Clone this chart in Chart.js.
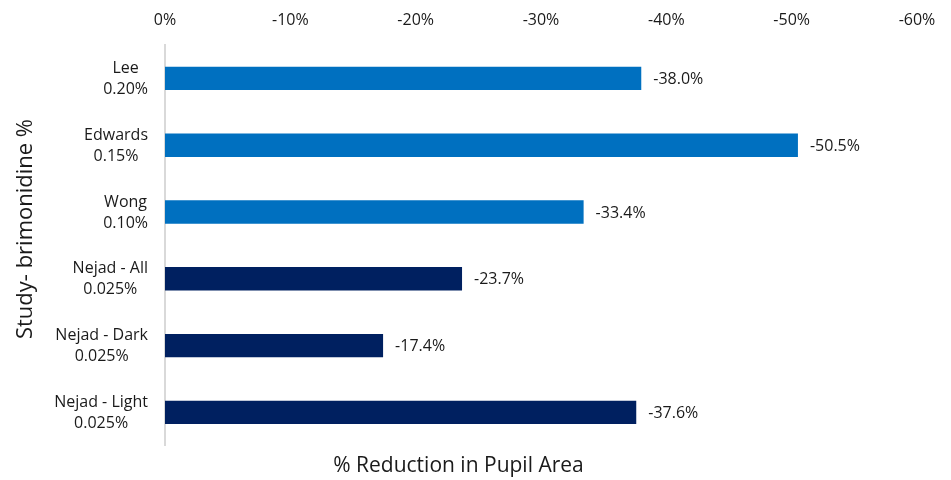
<!DOCTYPE html>
<html lang="en">
<head>
    <meta charset="UTF-8">
    <title>Pupil Area Reduction</title>
    <script src="https://cdn.jsdelivr.net/npm/chart.js"></script>
    <style>
        body {
            margin: 0;
            background: #ffffff;
        }

        .chart-container {
            width: 951px;
            height: 480px;
        }
    </style>
</head>
<body>

    <div class="chart-container">
        <canvas id="pupilChart"></canvas>
    </div>

    <script>
        const studies = ["Lee", "Edwards", "Wong", "Nejad - All", "Nejad - Dark", "Nejad - Light"];
        const concentrations = ["0.20%", "0.15%", "0.10%", "0.025%", "0.025%", "0.025%"];
        const reductions = [-38.0, -50.5, -33.4, -23.7, -17.4, -37.6];
        const xTicks = [0, -10, -20, -30, -40, -50, -60];

        const FONT = "'Open Sans', 'Liberation Sans', sans-serif";
        const TEXT = '#1a1a1a';
        // higher concentrations in light blue, 0.025% in navy
        const barColors = concentrations.map(c => parseFloat(c) >= 0.1 ? '#0070C0' : '#002060');

        // value labels just past the end of each bar
        const valueLabels = {
            id: 'valueLabels',
            afterDatasetsDraw(chart) {
                const ctx = chart.ctx;
                const meta = chart.getDatasetMeta(0);
                ctx.save();
                ctx.font = '16px ' + FONT;
                ctx.fillStyle = TEXT;
                ctx.textAlign = 'left';
                ctx.textBaseline = 'middle';
                meta.data.forEach((bar, i) => {
                    ctx.fillText(reductions[i].toFixed(1) + '%', bar.x + 12, bar.y + 1);
                });
                ctx.restore();
            }
        };

        // two-line category labels (lines centred on each other, block right-aligned)
        // plus the rotated axis title, sitting a little above the plot middle
        const studyLabels = {
            id: 'studyLabels',
            afterDraw(chart) {
                const ctx = chart.ctx;
                const yScale = chart.scales.y;
                const right = chart.chartArea.left - 17;
                ctx.save();
                ctx.font = '16px ' + FONT;
                ctx.fillStyle = TEXT;
                ctx.textAlign = 'center';
                ctx.textBaseline = 'middle';
                studies.forEach((name, i) => {
                    const lines = [name, concentrations[i]];
                    const w = Math.max(...lines.map(l => ctx.measureText(l).width));
                    const cx = right - w / 2;
                    const cy = yScale.getPixelForValue(i);
                    ctx.fillText(lines[0], cx, cy - 10);
                    ctx.fillText(lines[1], cx, cy + 11);
                });

                ctx.font = '22px ' + FONT;
                ctx.translate(26, 229);
                ctx.rotate(-Math.PI / 2);
                ctx.fillText('Study- brimonidine %', 0, 0);
                ctx.restore();
            }
        };

        const ctx = document.getElementById('pupilChart').getContext('2d');
        new Chart(ctx, {
            type: 'bar',
            data: {
                labels: studies,
                datasets: [{
                    data: reductions,
                    backgroundColor: barColors,
                    categoryPercentage: 1,
                    barPercentage: 0.35
                }]
            },
            options: {
                indexAxis: 'y',
                responsive: true,
                maintainAspectRatio: false,
                animation: false,
                layout: {
                    padding: { left: 0, right: 34, top: 0, bottom: 0 }
                },
                plugins: {
                    legend: { display: false },
                    tooltip: { enabled: false },
                    title: {
                        display: true,
                        position: 'bottom',
                        text: '% Reduction in Pupil Area',
                        color: TEXT,
                        font: { family: FONT, size: 21, weight: 'normal' },
                        padding: { top: 8, bottom: 1 }
                    }
                },
                scales: {
                    x: {
                        position: 'top',
                        reverse: true,
                        min: -60,
                        max: 0,
                        afterBuildTicks: scale => {
                            scale.ticks = xTicks.map(v => ({ value: v }));
                        },
                        afterFit: scale => { scale.height = 45; },
                        grid: { display: false, drawTicks: false },
                        border: { display: false },
                        ticks: {
                            color: TEXT,
                            padding: 15,
                            font: { family: FONT, size: 16 },
                            callback: v => v + '%'
                        }
                    },
                    y: {
                        afterFit: scale => { scale.width = 165; },
                        grid: { display: false, drawTicks: false },
                        border: { display: true, color: '#d9d9d9', width: 2 },
                        ticks: { display: false }
                    }
                }
            },
            plugins: [valueLabels, studyLabels]
        });
    </script>

</body>
</html>
